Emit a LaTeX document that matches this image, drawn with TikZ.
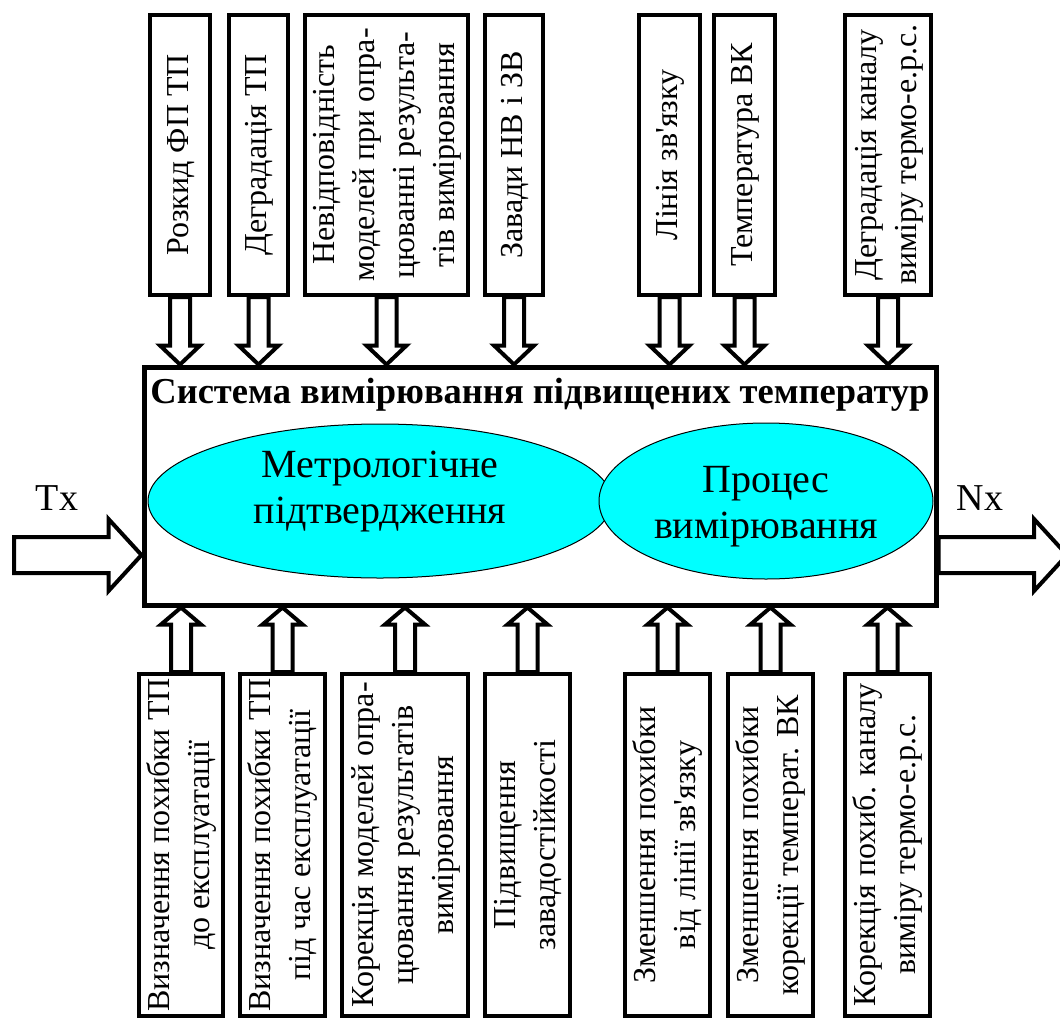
\documentclass[tikz,border=0pt]{standalone}
\usepackage{fontspec}
\setmainfont{Liberation Serif}
\usepackage{graphicx}
\usepackage{tikz}
\usetikzlibrary{positioning, calc, shapes.geometric}
\usepackage{xcolor}
\definecolor{aqua}{RGB}{0,255,255}

% rotated multi-line label for the narrow boxes
\newcommand{\vlabel}[1]{\rotatebox{90}{\begin{tabular}{@{}c@{}}#1\end{tabular}}}

% hollow block arrow: from, to, shaft half width, head half width, head length
\newcommand{\fatarrow}[5]{%
    \draw[hollow] let \p1=(#1), \p2=(#2), \p3=($(\p2)!#5!(\p1)$) in
        ($(\p1)!#3!90:(\p2)$) -- ($(\p3)!#3!90:(\p2)$) -- ($(\p3)!#4!90:(\p2)$)
        -- (\p2) -- ($(\p3)!#4!-90:(\p2)$) -- ($(\p3)!#3!-90:(\p2)$)
        -- ($(\p1)!#3!-90:(\p2)$) -- cycle;
}

\begin{document}
\begin{tikzpicture}[
    x=1pt, y=-1pt,
    box/.style={draw, line width=4pt, inner sep=0pt, fill=white,
        font=\fontsize{32}{40}\selectfont},
    system/.style={draw, line width=5pt, inner sep=0pt},
    oval/.style={ellipse, draw, line width=1pt, fill=aqua, inner sep=0pt},
    ovaltext/.style={align=center, font=\fontsize{40}{46}\selectfont},
    heading/.style={font=\bfseries\fontsize{36.5}{40}\selectfont, anchor=base},
    io/.style={font=\fontsize{38}{46}\selectfont, anchor=base},
    hollow/.style={draw, line width=4pt, line join=miter, fill=white}
]
\useasboundingbox (0,0) rectangle (1060,1020);
\clip (0,0) rectangle (1060,1020);

% Main block
\node[system, minimum width=792pt, minimum height=238pt] (sys) at (540,486) {};
\node[heading] (title) at (540,403) {Система вимірювання підвищених температур};

% Two areas inside the system
\node[oval, minimum width=464pt, minimum height=154pt] (metro) at (380,501) {};
\node[oval, minimum width=334pt, minimum height=156pt] (proc) at (766,501) {};
\node[ovaltext] (metrotext) at ([yshift=9pt]metro.center) {Метрологічне\\підтвердження};
\node[ovaltext] (proctext) at ([yshift=-6pt]proc.center) {Процес\\вимірювання};

% Top row - influencing factors
\foreach \i/\x/\w/\txt in {
    1/180/60/{Розкид ФП ТП},
    2/258.5/59/{Деградація ТП},
    3/386.5/163/{Невідповідність\\моделей при опра-\\цюванні результа-\\тів вимірювання},
    4/514/58/{Завади НВ і ЗВ},
    5/669.5/61/{Лінія зв\textquotesingle язку},
    6/744.5/61/{Температура ВК},
    7/888/86/{Деградація каналу\\виміру термо-е.р.с.}} {
    \node[box, minimum width=\w pt, minimum height=280pt] (t\i) at (\x,155) {\vlabel{\txt}};
    \fatarrow{t\i.south}{t\i.south |- sys.north}{10pt}{20pt}{19pt}
}

% Bottom row - corrective measures
\foreach \i/\x/\w/\txt in {
    1/181/84/{Визначення похибки ТП\\до експлуатації},
    2/282.5/85/{Визначення похибки ТП\\під час експлуатації},
    3/405/126/{Корекція моделей опра-\\цювання результатів\\вимірювання},
    4/527.5/85/{Підвищення\\завадостійкості},
    5/667.5/85/{Зменшення похибки\\від лінії зв\textquotesingle язку},
    6/770.5/85/{Зменшення похибки\\корекції температ. ВК},
    7/887.5/85/{Корекція похиб. каналу\\виміру термо-е.р.с.}} {
    \node[box, minimum width=\w pt, minimum height=342pt] (b\i) at (\x,845) {\vlabel{\txt}};
    \fatarrow{b\i.north}{b\i.north |- sys.south}{10pt}{20pt}{17pt}
}

% Input and output
\coordinate (tx) at (14,555);
\coordinate (nx) at (1067,555);
\fatarrow{tx}{tx -| sys.west}{18pt}{36pt}{33pt}
\fatarrow{nx -| sys.east}{nx}{18pt}{36pt}{33pt}
\node[io] (txlabel) at (57,510) {Tx};
\node[io] (nxlabel) at (980,510) {Nx};

\end{tikzpicture}
\end{document}
